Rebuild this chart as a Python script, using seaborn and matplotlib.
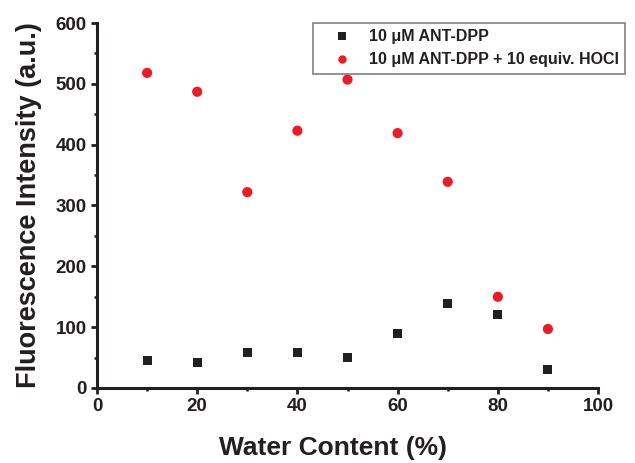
import matplotlib
matplotlib.use("Agg")
import matplotlib.pyplot as plt
from matplotlib.ticker import MultipleLocator
import seaborn as sns
import pandas as pd

water = [10, 20, 30, 40, 50, 60, 70, 80, 90]
ant_dpp = [46, 42, 58, 58, 50, 90, 139, 121, 31]
ant_dpp_hocl = [518, 487, 322, 423, 507, 419, 339, 150, 97]
series_names = ["10 \u03bcM ANT-DPP", "10 \u03bcM ANT-DPP + 10 equiv. HOCl"]
x_ticks = [0, 20, 40, 60, 80, 100]
y_ticks = [0, 100, 200, 300, 400, 500, 600]

df = pd.concat([
    pd.DataFrame({"water": water, "intensity": ant_dpp, "series": series_names[0]}),
    pd.DataFrame({"water": water, "intensity": ant_dpp_hocl, "series": series_names[1]}),
], ignore_index=True)

sns.set_theme(style="ticks")
plt.rcParams["font.family"] = ["Liberation Sans", "DejaVu Sans"]
plt.rcParams["font.weight"] = "bold"

dark = "#231f20"
red = "#ed1c24"

fig = plt.figure(figsize=(6.35, 4.63), dpi=100)
ax = fig.add_axes([97 / 635, 1 - 388 / 463, (598 - 97) / 635, (388 - 23) / 463])

sns.scatterplot(data=df, x="water", y="intensity", hue="series", style="series",
                size="series",
                sizes={series_names[0]: 42, series_names[1]: 54},
                palette={series_names[0]: dark, series_names[1]: red},
                markers={series_names[0]: "s", series_names[1]: "o"},
                linewidth=0, ax=ax, legend=True, clip_on=False, zorder=3)

ax.set_xlim(0, 100)
ax.set_ylim(0, 600)
ax.set_xticks(x_ticks)
ax.set_yticks(y_ticks)
ax.xaxis.set_minor_locator(MultipleLocator(10))
ax.yaxis.set_minor_locator(MultipleLocator(50))

for s in ["top", "right"]:
    ax.spines[s].set_visible(False)
for s in ["left", "bottom"]:
    ax.spines[s].set_linewidth(2.2)
    ax.spines[s].set_color(dark)

ax.tick_params(which="major", direction="out", length=4.5, width=2.0, color=dark,
               labelsize=13.5, labelcolor=dark, pad=3)
ax.tick_params(which="minor", direction="out", length=2.5, width=1.8, color=dark)
for lab in ax.get_xticklabels() + ax.get_yticklabels():
    lab.set_fontweight("bold")

ax.set_xlabel("Water Content (%)", fontsize=19, fontweight="bold", color=dark, labelpad=12)
ax.xaxis.set_label_coords((333 - 97) / 501, -0.132)
ax.set_ylabel("Fluorescence Intensity (a.u.)", fontsize=19.5, fontweight="bold", color=dark, labelpad=10)

handles, labels = ax.get_legend_handles_labels()
for h in handles:
    try:
        h.set_markersize(6)
    except Exception:
        pass
leg = fig.legend(handles, labels, loc="upper left",
                 bbox_to_anchor=(313 / 635, 1 - 23 / 463), bbox_transform=fig.transFigure,
                 fontsize=11.5, frameon=True, fancybox=False, framealpha=1,
                 edgecolor="#808080", handlelength=2.8, handletextpad=0.3,
                 borderpad=0.4, labelspacing=0.5, borderaxespad=0)
leg.get_frame().set_linewidth(1.2)
for t in leg.get_texts():
    t.set_fontweight("bold")
    t.set_color(dark)
if ax.get_legend():
    ax.get_legend().remove()

fig.savefig("out.png", dpi=100)
